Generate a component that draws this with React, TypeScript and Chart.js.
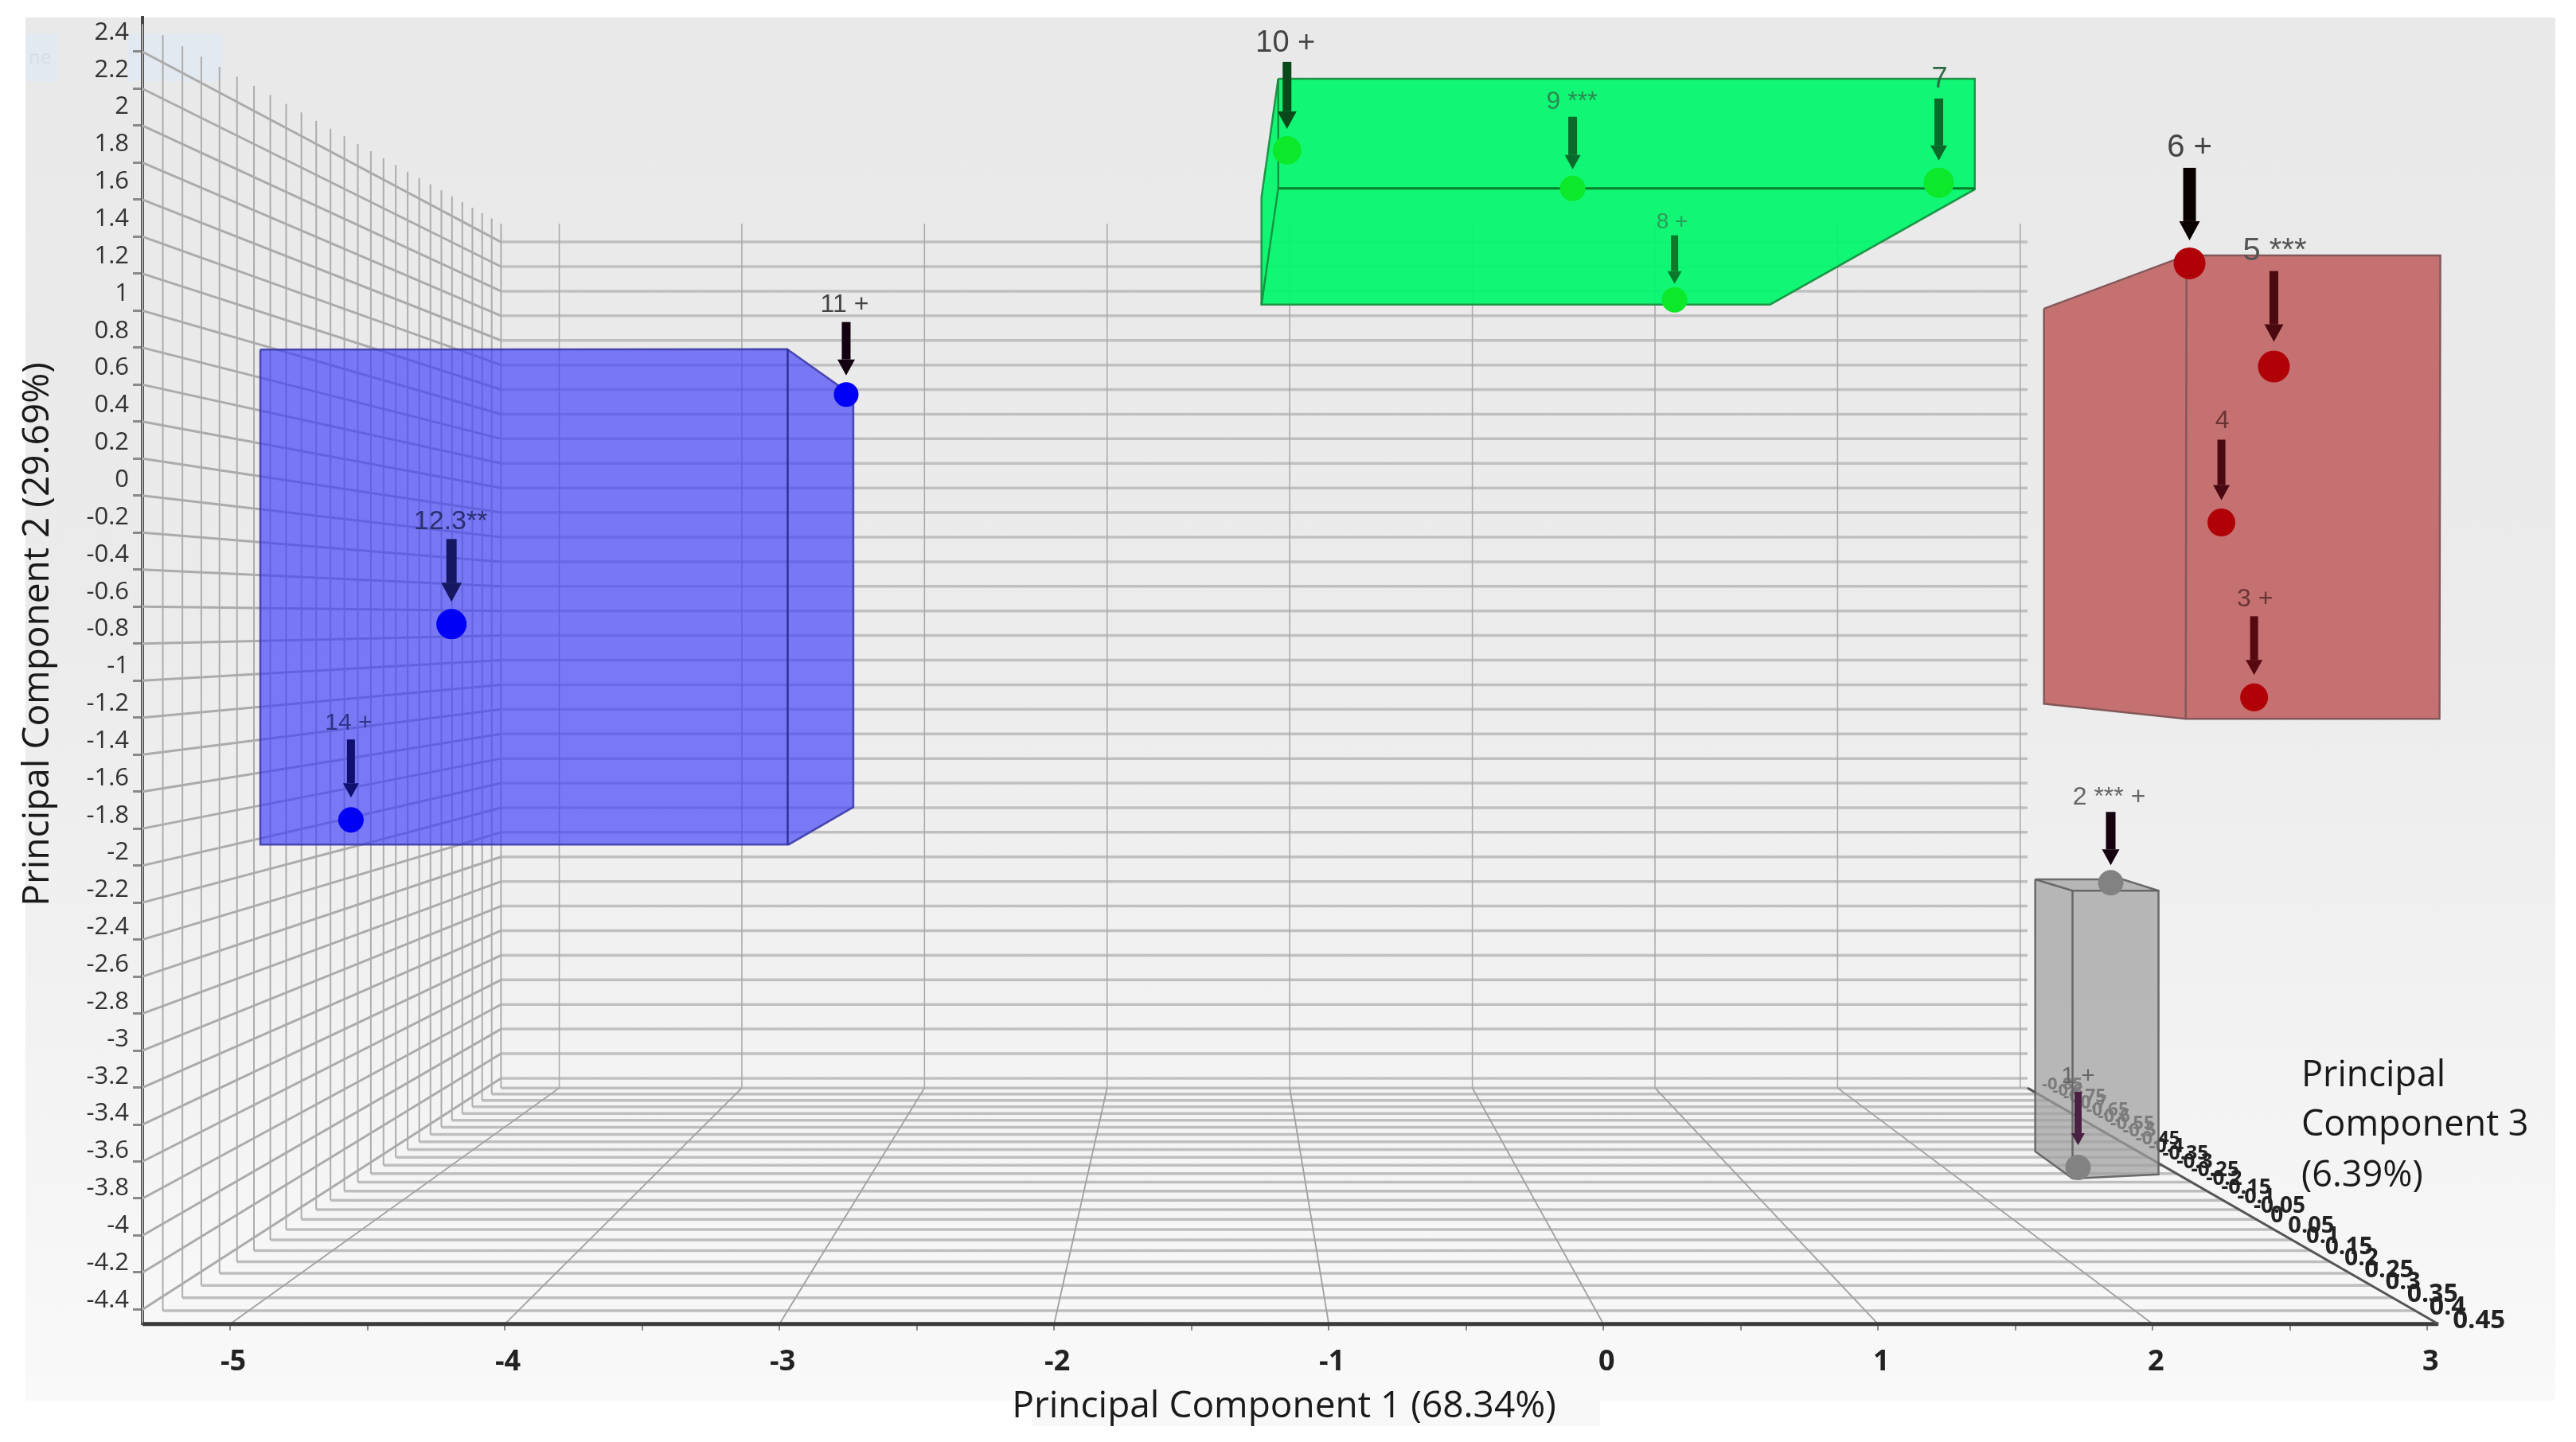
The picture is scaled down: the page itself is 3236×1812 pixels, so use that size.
import React, { useEffect, useRef } from "react";
import { Chart, registerables } from "chart.js";

Chart.register(...registerables);

// ---- axis values
const pc1Ticks = [-5, -4.5, -4, -3.5, -3, -2.5, -2, -1.5, -1, -0.5, 0, 0.5, 1, 1.5, 2, 2.5, 3];
const pc1Labelled = [-5, -4, -3, -2, -1, 0, 1, 2, 3];
const pc2Ticks = [2.4, 2.2, 2, 1.8, 1.6, 1.4, 1.2, 1, 0.8, 0.6, 0.4, 0.2, 0, -0.2, -0.4, -0.6, -0.8, -1, -1.2, -1.4, -1.6, -1.8, -2, -2.2, -2.4, -2.6, -2.8, -3, -3.2, -3.4, -3.6, -3.8, -4, -4.2, -4.4];
const pc3Ticks = [0.45, 0.4, 0.35, 0.3, 0.25, 0.2, 0.15, 0.1, 0.05, 0, -0.05, -0.1, -0.15, -0.2, -0.25, -0.3, -0.35, -0.4, -0.45, -0.5, -0.55, -0.6, -0.65, -0.7, -0.75, -0.8, -0.85];

// ---- samples as they appear on the front plane of the picture
const sampleLabels = ["1 +", "2 *** +", "3 +", "4", "5 ***", "6 +", "7", "8 +", "9 ***", "10 +", "11 +", "12.3**", "14 +"];
const samplePc1 = [1.728, 1.847, 2.369, 2.25, 2.441, 2.134, 1.221, 0.259, -0.112, -1.152, -2.757, -4.194, -4.56];
const samplePc2 = [-3.632, -2.093, -1.091, -0.145, 0.698, 1.256, 1.691, 1.059, 1.661, 1.867, 0.547, -0.695, -1.753];

// ---- group hulls
const blueHullX = [-4.89, -2.972, -2.731, -2.731, -2.966, -4.89];
const blueHullY = [0.79, 0.792, 0.538, -1.684, -1.886, -1.886];
const blueEdgeX = [-2.97, -2.97];
const blueEdgeY = [0.792, -1.886];

const greenHullX = [-1.184, 1.352, 1.352, 0.607, -1.245, -1.245];
const greenHullY = [2.254, 2.254, 1.656, 1.033, 1.033, 1.613];
const greenEdgeX = [-1.184, -1.184, -1.245];
const greenEdgeY = [2.254, 1.661, 1.033];
const greenEdge2X = [-1.184, 1.352];
const greenEdge2Y = [1.661, 1.661];

const redHullX = [1.604, 2.123, 3.047, 3.044, 2.12, 1.604];
const redHullY = [1.011, 1.299, 1.299, -1.207, -1.207, -1.125];
const redEdgeX = [2.123, 2.12];
const redEdgeY = [1.299, -1.207];

const greyHullX = [1.572, 1.891, 2.021, 2.021, 1.708, 1.572];
const greyHullY = [-2.075, -2.075, -2.136, -3.67, -3.692, -3.546];
const greyEdgeX = [1.572, 1.708, 2.021];
const greyEdgeY = [-2.075, -2.136, -2.136];
const greyEdge2X = [1.708, 1.708];
const greyEdge2Y = [-2.136, -3.692];

// ---- room bounds
const PC1_LEFT = -5.319;
const PC1_RIGHT = 3.04;
const PC2_FLOOR = -4.479;
const PC2_WALL_TOP = 2.55;
const PC3_FRONT = 0.45;
const PC3_BACK = -0.85;
const VANISH_X = -1.424;
const VANISH_Y = -0.67;
const BACK_DEPTH = 0.504;

const depthScale = (z: number) => 1 / (1 + ((PC3_FRONT - z) / (PC3_FRONT - PC3_BACK)) * BACK_DEPTH);
const project = (p: number, y: number, z: number) => {
  const s = depthScale(z);
  return { x: VANISH_X + (p - VANISH_X) * s, y: VANISH_Y + (y - VANISH_Y) * s };
};

const zip = (xs: number[], ys: number[]) => xs.map((x, i) => ({ x, y: ys[i] }));
const closed = (pts: { x: number; y: number }[]) => [...pts, pts[0]];

const line = (data: any[], color: string, width: number, order: number) => ({
  type: "scatter",
  data,
  showLine: true,
  borderColor: color,
  borderWidth: width,
  pointRadius: 0,
  pointHoverRadius: 0,
  fill: false,
  tension: 0,
  order,
  clip: false,
});
const hull = (data: any[], fillColor: string, edge: string, order: number) => ({
  ...line(closed(data), edge, 2.5, order),
  fill: "shape",
  backgroundColor: fillColor,
});
const markers = (idx: number[], color: string, radii: number[]) => ({
  type: "scatter",
  data: idx.map((i) => ({ x: samplePc1[i], y: samplePc2[i] })),
  pointStyle: "circle",
  pointBackgroundColor: color,
  pointBorderWidth: 0,
  pointRadius: radii,
  pointHoverRadius: radii,
  showLine: false,
  order: 1,
  clip: false,
});

// annotation layout per sample: label dx/dy, arrow top, arrow tip, shaft, head, font, label colour, arrow colour
const annotationStyle: [number, number, number, number, number, number, number, string, string][] = [
  [0, -114, -95, -28, 9, 15, 30, "#666", "#4a2040"],
  [-2, -107, -89, -22, 12, 20, 32, "#666", "#150010"],
  [1, -123, -102, -28, 10, 19, 32, "#6b3434", "#560a10"],
  [1, -127, -104, -28, 10, 19, 32, "#6b3434", "#4a0810"],
  [1, -145, -120, -31, 11, 22, 40, "#555", "#4a0a10"],
  [0, -145, -120, -29, 16, 24, 40, "#444", "#0a0000"],
  [1, -130, -106, -28, 11, 19, 36, "#2e6a44", "#0a6a2a"],
  [-3, -97, -81, -20, 9, 16, 28, "#2f9a58", "#0a7a2a"],
  [-1, -109, -90, -24, 11, 18, 32, "#2a8a50", "#0a6a2a"],
  [-2, -134, -111, -27, 11, 22, 38, "#444", "#0a4a1a"],
  [-2, -112, -91, -24, 11, 20, 32, "#444", "#120010"],
  [-1, -129, -107, -28, 13, 24, 34, "#2a2f70", "#151860"],
  [-3, -121, -101, -28, 10, 18, 30, "#2f3488", "#101070"],
];

const FONT = '"Open Sans", sans-serif';
const LABEL_FONT = '"Liberation Sans", Arial, sans-serif';

const noPadding = (s: any) => {
  s.paddingTop = 0;
  s.paddingBottom = 0;
  s.paddingLeft = 0;
  s.paddingRight = 0;
};

const paperPlugin = {
  id: "paper",
  beforeDraw(chart: any) {
    const { ctx } = chart;
    ctx.save();
    ctx.fillStyle = "#ffffff";
    ctx.fillRect(0, 0, 3236, 1812);
    const g = ctx.createLinearGradient(0, 22, 0, 1760);
    g.addColorStop(0, "#e9e9e9");
    g.addColorStop(0.42, "#ebebeb");
    g.addColorStop(0.7, "#f1f1f1");
    g.addColorStop(1, "#f9f9f9");
    ctx.fillStyle = g;
    ctx.fillRect(32, 22, 3178, 1738);
    ctx.fillStyle = "#f8f8f8";
    ctx.fillRect(1296, 1755, 714, 37);
    ctx.fillStyle = "#e3e9f0";
    ctx.fillRect(32, 42, 41, 60);
    ctx.fillRect(160, 42, 120, 60);
    ctx.fillStyle = "#d5dde6";
    ctx.font = `24px ${FONT}`;
    ctx.textAlign = "left";
    ctx.textBaseline = "middle";
    ctx.fillText("ne", 36, 73);
    ctx.restore();
  },
  beforeDatasetsDraw(chart: any) {
    const { ctx, scales } = chart;
    ctx.save();
    ctx.textAlign = "left";
    ctx.textBaseline = "middle";
    pc3Ticks.forEach((z) => {
      const pt = project(PC1_RIGHT, PC2_FLOOR, z);
      const s = depthScale(z);
      ctx.font = `bold ${Math.round(33 * s)}px ${FONT}`;
      ctx.fillStyle = "#222";
      ctx.fillText(String(z), scales.x.getPixelForValue(pt.x) + 18, scales.y.getPixelForValue(pt.y) - 4);
    });
    ctx.restore();
  },
  afterDatasetsDraw(chart: any) {
    const { ctx, scales } = chart;
    ctx.save();
    samplePc1.forEach((p, i) => {
      const [ldx, ldy, top, tip, shaft, head, size, labelColor, arrowColor] = annotationStyle[i];
      const cx = scales.x.getPixelForValue(p);
      const cy = scales.y.getPixelForValue(samplePc2[i]);
      ctx.fillStyle = arrowColor;
      ctx.fillRect(cx - shaft / 2, cy + top, shaft, tip - top - head);
      ctx.beginPath();
      ctx.moveTo(cx - head / 2 - 1, cy + tip - head);
      ctx.lineTo(cx + head / 2 + 1, cy + tip - head);
      ctx.lineTo(cx, cy + tip);
      ctx.closePath();
      ctx.fill();
      ctx.fillStyle = labelColor;
      ctx.font = `${size}px ${LABEL_FONT}`;
      ctx.textAlign = "center";
      ctx.textBaseline = "middle";
      ctx.fillText(sampleLabels[i], cx + ldx, cy + ldy);
    });

    ctx.fillStyle = "#1a1a1a";
    ctx.font = `45px ${FONT}`;
    ctx.textAlign = "left";
    ctx.textBaseline = "middle";
    ctx.fillText("Principal", 2891, 1352);
    ctx.fillText("Component 3", 2891, 1414);
    ctx.fillText("(6.39%)", 2891, 1478);

    ctx.translate(48, 797);
    ctx.rotate(-Math.PI / 2);
    ctx.textAlign = "center";
    ctx.font = `46px ${FONT}`;
    ctx.fillText("Principal Component 2 (29.69%)", 0, 0);
    ctx.restore();
  },
};

export default function App() {
  const ref = useRef<HTMLCanvasElement | null>(null);

  useEffect(() => {
    if (!ref.current) return;

    const grid: any[] = [];
    // back wall horizontals and left wall rails
    pc2Ticks.forEach((y) => {
      grid.push(line([project(PC1_LEFT, y, PC3_BACK), project(PC1_RIGHT, y, PC3_BACK)], "#c0c0c0", 3.5, 30));
      grid.push(line([project(PC1_LEFT, y, PC3_FRONT), project(PC1_LEFT, y, PC3_BACK)], "#ababab", 3, 30));
    });
    // back wall verticals and floor depth lines
    pc1Labelled.forEach((p) => {
      grid.push(line([project(p, PC2_FLOOR, PC3_BACK), project(p, PC2_WALL_TOP, PC3_BACK)], "#a8a8a8", 1.5, 29));
      if (p < 3) grid.push(line([project(p, PC2_FLOOR, PC3_FRONT), project(p, PC2_FLOOR, PC3_BACK)], "#a0a0a0", 1.8, 29));
    });
    // floor rails and left wall verticals
    pc3Ticks.forEach((z) => {
      grid.push(line([project(PC1_LEFT, PC2_FLOOR, z), project(PC1_RIGHT, PC2_FLOOR, z)], "#bebebe", 3.5, 30));
      grid.push(line([project(PC1_LEFT, PC2_FLOOR, z), project(PC1_LEFT, PC2_WALL_TOP, z)], "#adadad", 2, 29));
    });

    const axes = [
      line([project(PC1_RIGHT, PC2_FLOOR, PC3_FRONT), project(PC1_RIGHT, PC2_FLOOR, PC3_BACK)], "#555555", 3, 8),
      line([{ x: PC1_LEFT, y: PC2_FLOOR }, { x: PC1_RIGHT, y: PC2_FLOOR }], "#3a3a3a", 5, 8),
    ];

    const shapes = [
      hull(zip(blueHullX, blueHullY), "rgba(60,60,250,0.66)", "rgba(60,60,170,0.9)", 6),
      line(zip(blueEdgeX, blueEdgeY), "rgba(40,40,150,0.9)", 2.5, 5),
      hull(zip(greenHullX, greenHullY), "rgba(0,248,108,0.93)", "rgba(20,140,60,0.9)", 6),
      line(zip(greenEdgeX, greenEdgeY), "rgba(20,140,60,0.9)", 2.5, 5),
      line(zip(greenEdge2X, greenEdge2Y), "rgba(10,120,40,0.95)", 3, 5),
      hull(zip(redHullX, redHullY), "rgba(198,113,113,1)", "#84585a", 6),
      line(zip(redEdgeX, redEdgeY), "#84585a", 2.5, 5),
      hull(zip(greyHullX, greyHullY), "rgba(160,160,160,0.72)", "rgba(95,95,95,0.9)", 6),
      line(zip(greyEdgeX, greyEdgeY), "rgba(95,95,95,0.9)", 2.5, 5),
      line(zip(greyEdge2X, greyEdge2Y), "rgba(95,95,95,0.9)", 2.5, 5),
    ];

    const points = [
      markers([0, 1], "#828282", [16, 16]),
      markers([2, 3, 4, 5], "#b00008", [17.5, 17.5, 20, 20]),
      markers([6, 7, 8, 9], "#0ce82a", [19, 16, 16, 18]),
      markers([10, 11, 12], "#0000f5", [15.5, 19, 16]),
    ];

    const chart = new Chart(ref.current, {
      type: "scatter",
      data: { datasets: [...grid, ...axes, ...shapes, ...points] as any },
      plugins: [paperPlugin as any],
      options: {
        responsive: false,
        animation: false,
        devicePixelRatio: 1,
        layout: { padding: { left: 0, right: 10, top: 22, bottom: 0 } },
        plugins: {
          legend: { display: false },
          tooltip: { enabled: false },
          filler: { drawTime: "beforeDatasetDraw" } as any,
          title: {
            display: true,
            position: "bottom",
            text: "Principal Component 1 (68.34%)",
            color: "#1a1a1a",
            font: { family: '"Open Sans", sans-serif', size: 46, weight: "normal" },
            padding: { top: 0, bottom: 17 },
          },
        },
        scales: {
          x: {
            type: "linear",
            min: PC1_LEFT,
            max: 3.483,
            border: { display: false },
            grid: { drawOnChartArea: false, drawTicks: true, tickLength: 8, color: "#8a8a8a", lineWidth: 2 },
            afterBuildTicks: (s: any) => {
              s.ticks = pc1Ticks.map((value) => ({ value }));
            },
            afterFit: (s: any) => {
              s.height = 76;
              noPadding(s);
            },
            ticks: {
              autoSkip: false,
              maxRotation: 0,
              padding: 18,
              labelOffset: 4,
              color: "#222",
              font: { family: '"Open Sans", sans-serif', size: 36, weight: "bold" },
              callback: (v: any) => (pc1Labelled.includes(v) ? String(v) : ""),
            },
          },
          y: {
            type: "linear",
            position: "left",
            weight: 0,
            min: PC2_FLOOR,
            max: 2.585,
            border: { display: true, color: "#444", width: 4 },
            grid: { drawOnChartArea: false, drawTicks: true, tickLength: 12, color: "#8a8a8a", lineWidth: 3 },
            afterBuildTicks: (s: any) => {
              s.ticks = pc2Ticks.map((value) => ({ value }));
            },
            afterFit: (s: any) => {
              s.width = 0;
              noPadding(s);
            },
            ticks: { display: false, autoSkip: false },
          },
          yLabels: {
            type: "linear",
            position: "left",
            weight: 1,
            min: -4.528,
            max: 2.481,
            border: { display: false },
            grid: { display: false, drawTicks: false },
            afterBuildTicks: (s: any) => {
              s.ticks = pc2Ticks.map((value) => ({ value }));
            },
            afterFit: (s: any) => {
              s.width = 179;
              noPadding(s);
            },
            ticks: {
              autoSkip: false,
              padding: 17,
              color: "#333",
              font: { family: '"Open Sans", sans-serif', size: 31 },
              callback: (v: any) => String(v),
            },
          },
        },
      } as any,
    });
    return () => chart.destroy();
  }, []);

  return (
    <div style={{ position: "fixed", left: 0, top: 0, width: 3236, height: 1812, background: "#fff" }}>
      <canvas ref={ref} width={3236} height={1812} style={{ display: "block" }} />
    </div>
  );
}
